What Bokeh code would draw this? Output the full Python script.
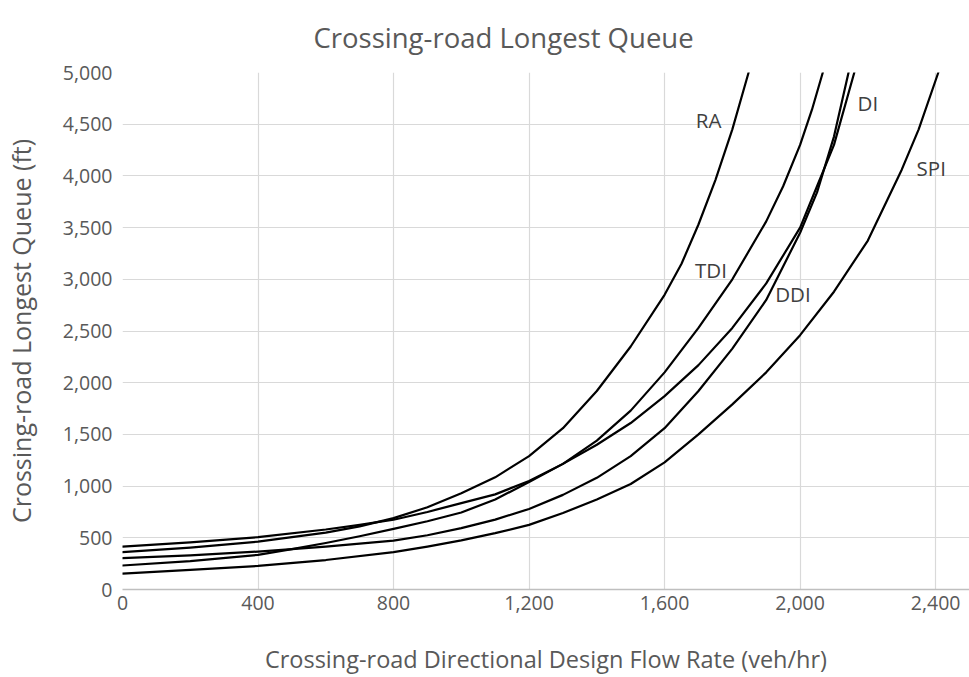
from bokeh.plotting import figure
from bokeh.models import Range1d, NumeralTickFormatter, FixedTicker, Label
from bokeh.embed import file_html
from bokeh.resources import INLINE

# ---------------- data ----------------
chart_title = "Crossing-road  Longest Queue"
x_title = "Crossing-road Directional Design Flow Rate (veh/hr)"
y_title = "Crossing-road Longest Queue (ft)"

x_ticks = [0, 400, 800, 1200, 1600, 2000, 2400]
y_ticks = [0, 500, 1000, 1500, 2000, 2500, 3000, 3500, 4000, 4500, 5000]

ra_flow = [0, 200, 400, 600, 700, 800, 900, 1000, 1100, 1200, 1300, 1400, 1500, 1600, 1650, 1700, 1750, 1800, 1848]
ra_queue = [361, 405, 463, 550, 610, 690, 795, 930, 1085, 1290, 1560, 1920, 2350, 2850, 3150, 3530, 3960, 4450, 5000]

tdi_flow = [0, 200, 400, 600, 700, 800, 900, 1000, 1100, 1200, 1300, 1400, 1500, 1600, 1700, 1800, 1900, 1950, 2000, 2035, 2067]
tdi_queue = [415, 455, 506, 580, 625, 675, 750, 835, 920, 1050, 1215, 1440, 1730, 2100, 2530, 3000, 3560, 3900, 4300, 4640, 5000]

di_flow = [0, 200, 400, 500, 600, 700, 800, 900, 1000, 1100, 1200, 1300, 1400, 1500, 1600, 1700, 1800, 1900, 2000, 2050, 2100, 2160]
di_queue = [232, 275, 335, 390, 450, 515, 586, 660, 745, 870, 1040, 1215, 1400, 1610, 1870, 2170, 2530, 2960, 3500, 3900, 4300, 5000]

ddi_flow = [0, 200, 400, 600, 800, 900, 1000, 1100, 1200, 1300, 1400, 1500, 1600, 1700, 1800, 1900, 2000, 2050, 2100, 2143]
ddi_queue = [303, 330, 367, 415, 473, 525, 593, 676, 779, 915, 1080, 1290, 1560, 1920, 2330, 2800, 3450, 3840, 4380, 5000]

spi_flow = [0, 200, 400, 600, 800, 900, 1000, 1100, 1200, 1300, 1400, 1500, 1600, 1700, 1800, 1900, 2000, 2100, 2200, 2300, 2350, 2408]
spi_queue = [154, 190, 228, 285, 361, 415, 475, 545, 625, 740, 870, 1020, 1230, 1500, 1790, 2100, 2460, 2880, 3375, 4060, 4450, 5000]

series_names = ["RA", "TDI", "DI", "DDI", "SPI"]
series_flows = [ra_flow, tdi_flow, di_flow, ddi_flow, spi_flow]
series_queues = [ra_queue, tdi_queue, di_queue, ddi_queue, spi_queue]

# curve-label anchor points (data units)
label_flow = [1730, 1737, 2200, 1979, 2387]
label_queue = [4539, 3091, 4703, 2859, 4080]

# ---------------- figure ----------------
FONT = "Open Sans"
GREY_TXT = "#595959"

p = figure(width=969, height=677, output_backend="svg", toolbar_location=None,
           x_range=Range1d(0, 2500), y_range=Range1d(0, 5000),
           min_border_left=120, min_border_right=0, min_border_top=72, min_border_bottom=87)

p.title.text = chart_title
p.title.text_font = FONT
p.title.text_font_size = "27.5px"
p.title.text_font_style = "normal"
p.title.text_color = GREY_TXT
p.title.align = "left"
p.title.offset = 191
p.title.standoff = 30
p.title.vertical_align = "top"

p.outline_line_color = None
p.background_fill_color = "white"
p.border_fill_color = "white"

for ax in (p.xaxis[0], p.yaxis[0]):
    ax.major_tick_line_color = None
    ax.minor_tick_line_color = None
    ax.major_tick_out = 0
    ax.major_tick_in = 0
    ax.minor_tick_out = 0
    ax.major_label_text_font = FONT
    ax.major_label_text_font_size = "19.5px"
    ax.major_label_text_color = GREY_TXT
    ax.axis_label_text_font = FONT
    ax.axis_label_text_font_style = "normal"
    ax.axis_label_text_color = GREY_TXT
    ax.formatter = NumeralTickFormatter(format="0,0")

p.xaxis.ticker = FixedTicker(ticks=x_ticks)
p.yaxis.ticker = FixedTicker(ticks=y_ticks)
p.xaxis.axis_label = x_title
p.yaxis.axis_label = y_title
p.xaxis.axis_label_text_font_size = "23.5px"
p.yaxis.axis_label_text_font_size = "25px"
p.xaxis.axis_line_color = "#bfbfbf"
p.xaxis.axis_line_width = 1.5
p.yaxis.axis_line_color = None
p.xaxis.major_label_standoff = 6
p.yaxis.major_label_standoff = 10
p.xaxis.axis_label_standoff = 30
p.yaxis.axis_label_standoff = 22

p.xgrid.ticker = FixedTicker(ticks=x_ticks)
p.ygrid.ticker = FixedTicker(ticks=y_ticks)
p.grid.grid_line_color = "#d9d9d9"
p.grid.grid_line_width = 1.2

for fx, qy in zip(series_flows, series_queues):
    p.line(fx, qy, line_color="black", line_width=2.2, line_join="round", line_cap="round")

for name, lx, ly in zip(series_names, label_flow, label_queue):
    p.add_layout(Label(x=lx, y=ly, text=name, text_font=FONT, text_font_size="20.5px",
                       text_color="#404040", text_align="center", text_baseline="middle"))

open("out.html", "w").write(file_html(p, INLINE))
